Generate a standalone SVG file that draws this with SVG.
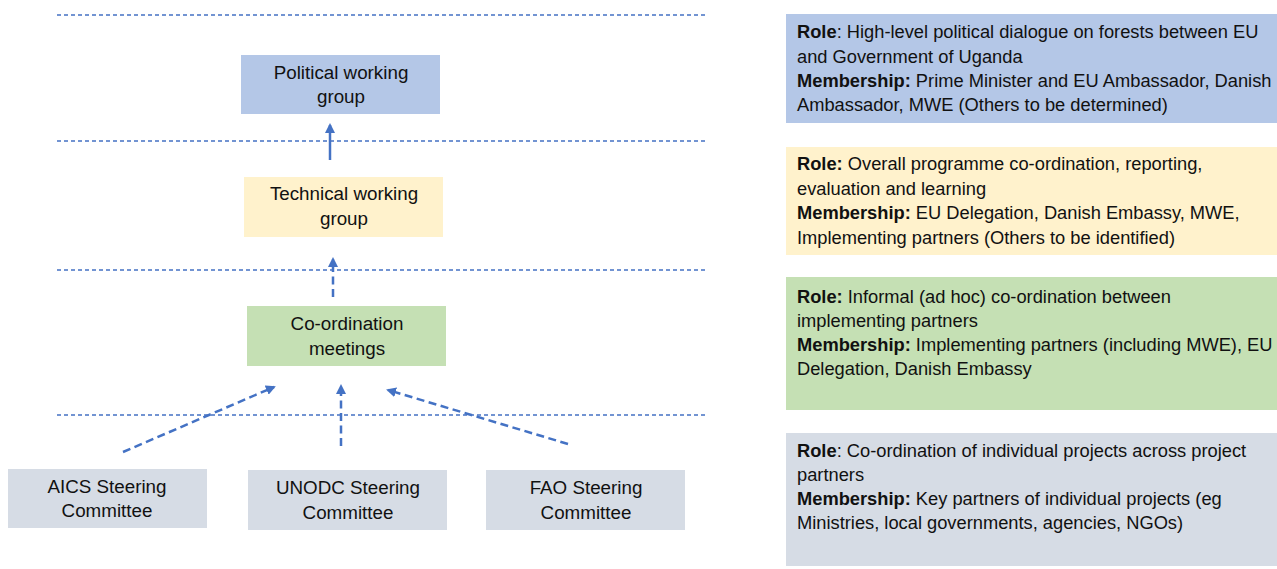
<svg xmlns="http://www.w3.org/2000/svg" width="1277" height="569" viewBox="0 0 1277 569">
  <defs>
    <marker id="head" viewBox="0 0 10 10" refX="8" refY="5" markerWidth="4" markerHeight="4" orient="auto-start-reverse" markerUnits="strokeWidth">
      <path d="M0,0 L10,5 L0,10 z" fill="#4472c4"/>
    </marker>
    <style>
      text { font-family: "Liberation Sans", Arial, sans-serif; fill: #111; }
      .lbl { font-size: 18.8px; text-anchor: middle; }
      .desc { font-size: 18.3px; }
      .b { font-weight: bold; }
      .tier { stroke: #4472c4; stroke-width: 1.3; stroke-dasharray: 4 3; fill: none; }
      .link { stroke: #4472c4; stroke-width: 2.5; fill: none; marker-end: url(#head); }
      .dash { stroke-dasharray: 8 4.5; }
    </style>
  </defs>
  <rect width="1277" height="569" fill="#ffffff"/>

  <!-- tier separators -->
  <g id="tiers">
    <line class="tier" x1="57" y1="15" x2="708" y2="15"/>
    <line class="tier" x1="57" y1="141" x2="708" y2="141"/>
    <line class="tier" x1="57" y1="270" x2="708" y2="270"/>
    <line class="tier" x1="57" y1="415" x2="708" y2="415"/>
  </g>

  <!-- hierarchy nodes -->
  <g id="political">
    <rect x="241" y="55" width="199" height="59" fill="#b4c7e7"/>
    <text class="lbl" x="341" y="79">Political working</text>
    <text class="lbl" x="341" y="103">group</text>
  </g>
  <g id="technical">
    <rect x="244" y="177" width="199" height="60" fill="#fff2cc"/>
    <text class="lbl" x="344" y="200">Technical working</text>
    <text class="lbl" x="344" y="225">group</text>
  </g>
  <g id="coordination">
    <rect x="247" y="306" width="199" height="60" fill="#c5e0b4"/>
    <text class="lbl" x="347" y="330">Co-ordination</text>
    <text class="lbl" x="347" y="355">meetings</text>
  </g>
  <g id="aics">
    <rect x="8" y="469" width="199" height="59" fill="#d6dce5"/>
    <text class="lbl" x="107" y="493">AICS Steering</text>
    <text class="lbl" x="107" y="517">Committee</text>
  </g>
  <g id="unodc">
    <rect x="248" y="470" width="199" height="60" fill="#d6dce5"/>
    <text class="lbl" x="348" y="494">UNODC Steering</text>
    <text class="lbl" x="348" y="519">Committee</text>
  </g>
  <g id="fao">
    <rect x="486" y="470" width="199" height="60" fill="#d6dce5"/>
    <text class="lbl" x="586" y="494">FAO Steering</text>
    <text class="lbl" x="586" y="519">Committee</text>
  </g>

  <!-- connectors -->
  <g id="connectors">
    <line class="link" x1="330" y1="160" x2="330" y2="125"/>
    <line class="link dash" x1="333" y1="297" x2="333" y2="259"/>
    <line class="link dash" x1="123" y1="452" x2="274" y2="387"/>
    <line class="link dash" x1="341" y1="446" x2="341" y2="386"/>
    <line class="link dash" x1="568" y1="444" x2="388" y2="390"/>
  </g>

  <!-- role descriptions -->
  <g id="role-political">
    <rect x="786" y="14" width="491" height="109" fill="#b4c7e7"/>
    <text class="desc" x="797" y="38"><tspan class="b">Role</tspan>: High-level political dialogue on forests between EU</text>
    <text class="desc" x="797" y="63">and Government of Uganda</text>
    <text class="desc" x="797" y="87"><tspan class="b">Membership:</tspan> Prime Minister and EU Ambassador, Danish</text>
    <text class="desc" x="797" y="111">Ambassador, MWE (Others to be determined)</text>
  </g>
  <g id="role-technical">
    <rect x="786" y="147" width="491" height="108" fill="#fff2cc"/>
    <text class="desc" x="797" y="170"><tspan class="b">Role:</tspan> Overall programme co-ordination, reporting,</text>
    <text class="desc" x="797" y="195">evaluation and learning</text>
    <text class="desc" x="797" y="219"><tspan class="b">Membership:</tspan> EU Delegation, Danish Embassy, MWE,</text>
    <text class="desc" x="797" y="244">Implementing partners (Others to be identified)</text>
  </g>
  <g id="role-coordination">
    <rect x="786" y="277" width="491" height="133" fill="#c5e0b4"/>
    <text class="desc" x="797" y="303"><tspan class="b">Role:</tspan> Informal (ad hoc) co-ordination between</text>
    <text class="desc" x="797" y="327">implementing partners</text>
    <text class="desc" x="797" y="351"><tspan class="b">Membership:</tspan> Implementing partners (including MWE), EU</text>
    <text class="desc" x="797" y="375">Delegation, Danish Embassy</text>
  </g>
  <g id="role-steering">
    <rect x="786" y="433" width="491" height="133" fill="#d6dce5"/>
    <text class="desc" x="797" y="457"><tspan class="b">Role</tspan>: Co-ordination of individual projects across project</text>
    <text class="desc" x="797" y="481">partners</text>
    <text class="desc" x="797" y="505"><tspan class="b">Membership:</tspan> Key partners of individual projects (eg</text>
    <text class="desc" x="797" y="529">Ministries, local governments, agencies, NGOs)</text>
  </g>
</svg>
